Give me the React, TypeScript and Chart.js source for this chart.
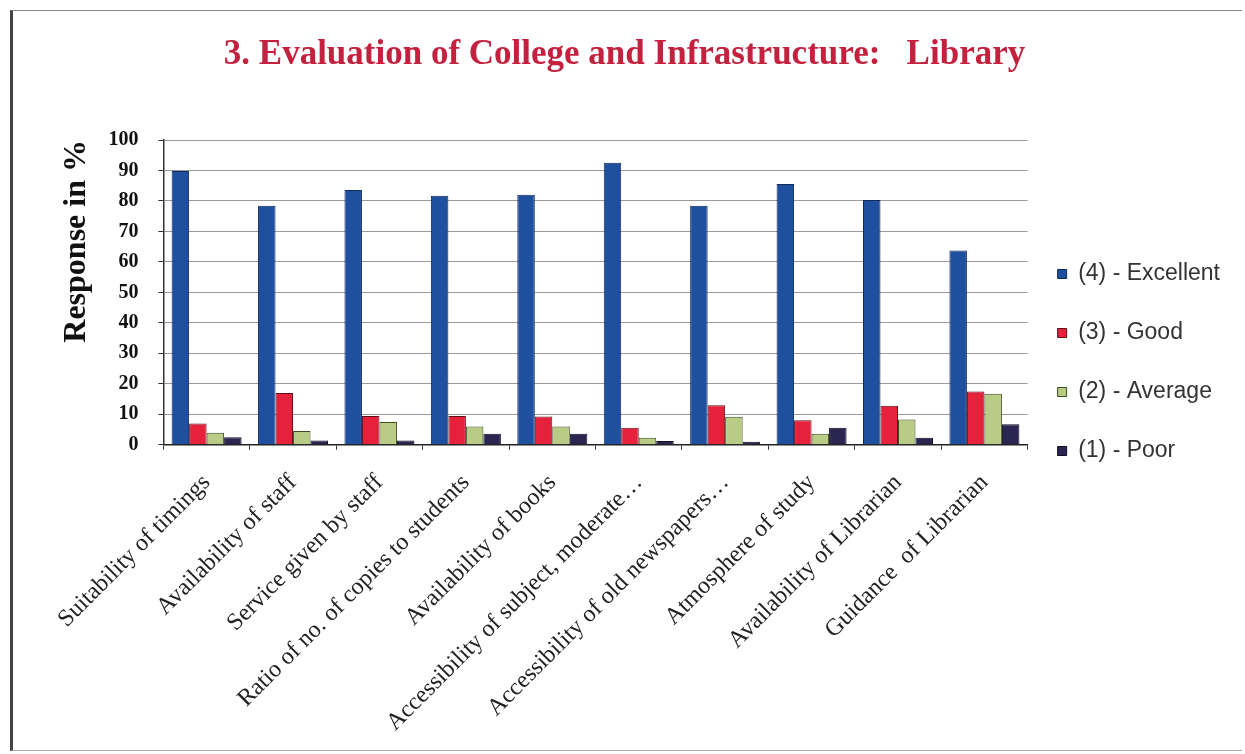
import React, { useEffect, useRef } from "react";
import { Chart, registerables } from "chart.js";

Chart.register(...registerables);

const categories = [
  "Suitability of timings",
  "Availability of staff",
  "Service given by staff",
  "Ratio of no. of copies to students",
  "Availability of books",
  "Accessibility of subject, moderate…",
  "Accessibility of old newspapers…",
  "Atmosphere of study",
  "Availability of Librarian",
  "Guidance  of Librarian",
];

const excellent = [89.8, 78.4, 83.6, 81.7, 82, 92.5, 78.4, 85.6, 80.3, 63.7];
const good = [7, 17, 9.4, 9.4, 9.3, 5.6, 13, 8, 12.8, 17.5];
const average = [3.9, 4.5, 7.5, 6, 6, 2.3, 9.2, 3.6, 8.3, 16.7];
const poor = [2.5, 1.4, 1.4, 3.6, 3.6, 1.2, 1, 5.6, 2.3, 6.7];

const seriesLabels = ["(4) - Excellent", "(3) - Good", "(2) - Average", "(1) - Poor"];
const yTicks = [0, 10, 20, 30, 40, 50, 60, 70, 80, 90, 100];

const legendNudge = {
  id: "legendNudge",
  afterLayout(chart: any) {
    const lg = chart.legend;
    if (!lg) return;
    const dx = -6;
    const dy = -21;
    lg.left += dx;
    lg.right += dx;
    lg.top += dy;
    lg.bottom += dy;
  },
};

export default function App() {
  const ref = useRef<HTMLCanvasElement | null>(null);

  useEffect(() => {
    if (!ref.current) return;
    const chart = new Chart(ref.current, {
      type: "bar",
      data: {
        labels: categories,
        datasets: [
          { label: seriesLabels[0], data: excellent, backgroundColor: "#1f4f9f", borderColor: "#102a5a", borderWidth: 1 },
          { label: seriesLabels[1], data: good, backgroundColor: "#e5213c", borderColor: "#5a0f18", borderWidth: 1 },
          { label: seriesLabels[2], data: average, backgroundColor: "#b9cc86", borderColor: "#3c4a20", borderWidth: 1 },
          { label: seriesLabels[3], data: poor, backgroundColor: "#2b2552", borderColor: "#0e0b20", borderWidth: 1 },
        ],
      },
      plugins: [legendNudge],
      options: {
        animation: false,
        responsive: true,
        maintainAspectRatio: false,
        datasets: { bar: { categoryPercentage: 0.81, barPercentage: 1.0 } },
        layout: { padding: { left: 0, right: 6, top: 0, bottom: -6 } },
        plugins: {
          title: {
            display: true,
            text: "3. Evaluation of College and Infrastructure:   Library",
            color: "#c4213f",
            font: { family: "'Liberation Serif', serif", size: 35, weight: "bold" },
            padding: { top: 23, bottom: 64 },
          },
          legend: {
            position: "right",
            labels: {
              boxWidth: 9,
              boxHeight: 9,
              padding: 36,
              color: "#333",
              font: { family: "'Liberation Sans', Arial, sans-serif", size: 23 },
            },
          },
          tooltip: { enabled: false },
        },
        scales: {
          x: {
            afterFit: (scale: any) => {
              scale.paddingLeft = 0;
              scale.paddingRight = 0;
            },
            grid: { display: true, drawOnChartArea: false, drawTicks: true, tickLength: 5, color: "#333", offset: true },
            border: { color: "#222", width: 1.5 },
            ticks: {
              minRotation: 45,
              maxRotation: 45,
              padding: 19,
              color: "#222",
              font: { family: "'Liberation Serif', serif", size: 24 },
            },
          },
          y: {
            min: 0,
            max: 100,
            afterBuildTicks: (axis: any) => {
              axis.ticks = yTicks.map((v) => ({ value: v }));
            },
            grid: { color: "#9a9a9a", tickLength: 5, tickColor: "#333" },
            border: { color: "#333", width: 1.5 },
            ticks: {
              color: "#111",
              padding: 20,
              font: { family: "'Liberation Serif', serif", size: 20, weight: "bold" },
            },
            title: {
              display: true,
              text: "Response in %",
              align: "end",
              color: "#111",
              font: { family: "'Liberation Serif', serif", size: 32, weight: "bold" },
              padding: { top: 45, bottom: -8 },
            },
          },
        },
      },
    });
    return () => chart.destroy();
  }, []);

  return (
    <div
      style={{
        position: "absolute",
        left: 10,
        top: 10,
        width: 1232,
        height: 741,
        boxSizing: "border-box",
        borderLeft: "3px solid #444",
        borderTop: "1px solid #888",
        borderBottom: "1px solid #aaa",
        background: "#fff",
      }}
    >
      <canvas ref={ref} />
    </div>
  );
}
